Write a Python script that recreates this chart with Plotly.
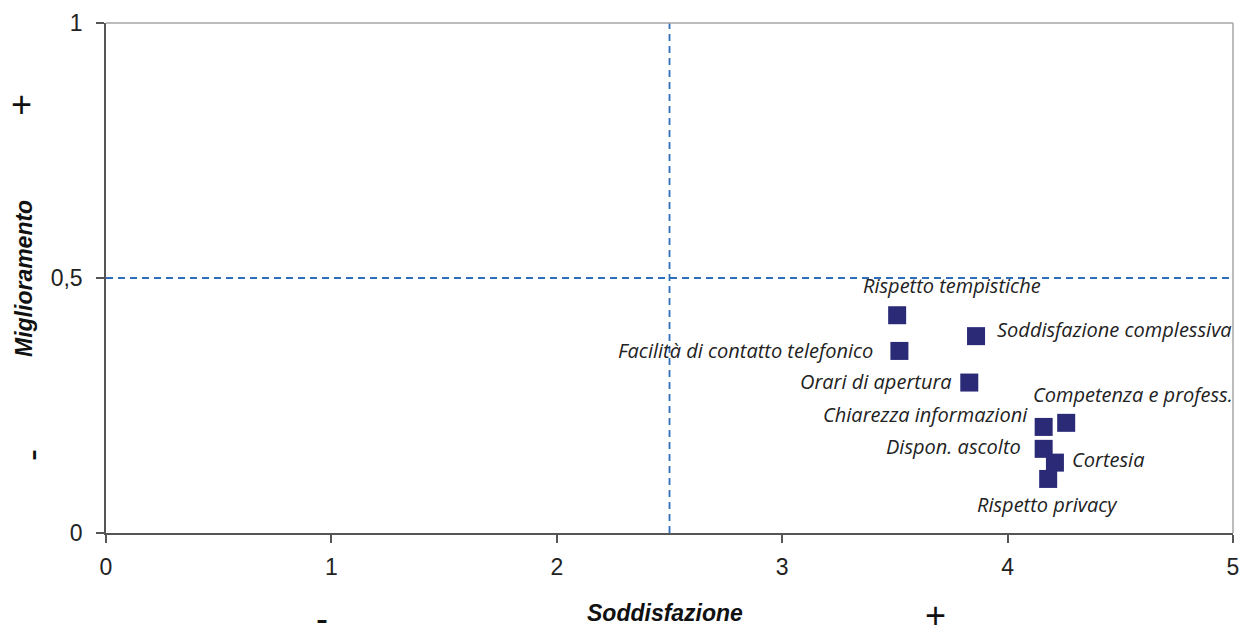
import plotly.graph_objects as go

labels = ["Rispetto tempistiche", "Soddisfazione complessiva", "Facilità di contatto telefonico",
          "Orari di apertura", "Chiarezza informazioni", "Competenza e profess.",
          "Dispon. ascolto", "Cortesia", "Rispetto privacy"]
soddisfazione = [3.51, 3.86, 3.52, 3.83, 4.16, 4.26, 4.16, 4.21, 4.18]
miglioramento = [0.427, 0.386, 0.357, 0.295, 0.208, 0.216, 0.165, 0.138, 0.106]

x_ticks = [0, 1, 2, 3, 4, 5]
y_ticks = [0, 0.5, 1]
y_ticktext = ["0", "0,5", "1"]
soglia_x = 2.5
soglia_y = 0.5

# label placement (style only)
lab_style = {
    "Rispetto tempistiche": ("center", 55, 30),
    "Soddisfazione complessiva": ("left", 19, 7),
    "Facilità di contatto telefonico": ("right", -24, 0),
    "Orari di apertura": ("right", -15, 1),
    "Chiarezza informazioni": ("right", -14, 12),
    "Competenza e profess.": ("center", 67, 28),
    "Dispon. ascolto": ("right", -21, 2),
    "Cortesia": ("left", 15, 3),
    "Rispetto privacy": ("center", -1, -26),
}

fig = go.Figure()
fig.add_trace(go.Scatter(
    x=soddisfazione, y=miglioramento, mode="markers",
    marker=dict(symbol="square", size=18, color="#2B2A77", line=dict(width=0)),
    showlegend=False, hoverinfo="skip", cliponaxis=False))

annotations = []
for lab, xv, yv in zip(labels, soddisfazione, miglioramento):
    anc, xs, ys = lab_style[lab]
    annotations.append(dict(x=xv, y=yv, xref="x", yref="y", text=lab, showarrow=False,
                            xanchor=anc, yanchor="middle", xshift=xs, yshift=ys,
                            font=dict(family="Open Sans", size=20, color="#222222", style="italic")))

L, R, T, B = 106, 1233, 23, 533
def px(xp):
    return (xp - L) / (R - L)
def py(yp):
    return (B - yp) / (B - T)

sign_font = dict(family="Liberation Sans", size=36, color="#111111")
title_font = dict(family="Liberation Sans", size=23, color="#111111")
annotations += [
    dict(x=px(665), y=py(613), xref="paper", yref="paper", text="<b><i>Soddisfazione</i></b>",
         showarrow=False, xanchor="center", yanchor="middle", font=title_font),
    dict(x=px(24), y=py(279), xref="paper", yref="paper", text="<b><i>Miglioramento</i></b>",
         showarrow=False, xanchor="center", yanchor="middle", textangle=-90, font=title_font),
    dict(x=px(935), y=py(615), xref="paper", yref="paper", text="+", showarrow=False,
         xanchor="center", yanchor="middle", font=sign_font),
    dict(x=px(322), y=py(618), xref="paper", yref="paper", text="-", showarrow=False,
         xanchor="center", yanchor="middle", font=sign_font),
    dict(x=px(21), y=py(104), xref="paper", yref="paper", text="+", showarrow=False,
         xanchor="center", yanchor="middle", font=sign_font),
    dict(x=px(31), y=py(455), xref="paper", yref="paper", text="-", showarrow=False,
         xanchor="center", yanchor="middle", textangle=-90, font=sign_font),
]

dash_line = dict(color="#2F6EBA", width=1.8, dash="7px,5px")
shapes = [
    dict(type="line", xref="x", yref="paper", x0=soglia_x, x1=soglia_x, y0=0, y1=1, line=dash_line),
    dict(type="line", xref="paper", yref="y", x0=0, x1=1, y0=soglia_y, y1=soglia_y, line=dash_line),
    dict(type="line", xref="paper", yref="paper", x0=0, x1=1, y0=1, y1=1,
         line=dict(color="#A6A6A6", width=1.5)),
    dict(type="line", xref="paper", yref="paper", x0=1, x1=1, y0=0, y1=1,
         line=dict(color="#A6A6A6", width=1.5)),
]

fig.update_layout(
    width=1241, height=625,
    margin=dict(l=L, r=1241 - R, t=T, b=625 - B, autoexpand=False),
    paper_bgcolor="white", plot_bgcolor="white",
    annotations=annotations, shapes=shapes,
    xaxis=dict(range=[0, 5], tickvals=x_ticks, ticktext=[str(v) for v in x_ticks],
               automargin=False,
               showgrid=False, zeroline=False, showline=True, linecolor="#555555", linewidth=1.5,
               ticks="outside", ticklen=8, tickcolor="#555555", tickwidth=1.5,
               ticklabelstandoff=5,
               tickfont=dict(family="Liberation Sans", size=23, color="#222222")),
    yaxis=dict(range=[0, 1], tickvals=y_ticks, ticktext=y_ticktext,
               automargin=False,
               showgrid=False, zeroline=False, showline=True, linecolor="#555555", linewidth=1.5,
               ticks="outside", ticklen=8, tickcolor="#555555", tickwidth=1.5,
               ticklabelstandoff=9,
               tickfont=dict(family="Liberation Sans", size=23, color="#222222")),
)

fig.write_html("out.html", config={"displayModeBar": False},
               post_script="document.body.style.margin='0';document.body.style.overflow='hidden';")
